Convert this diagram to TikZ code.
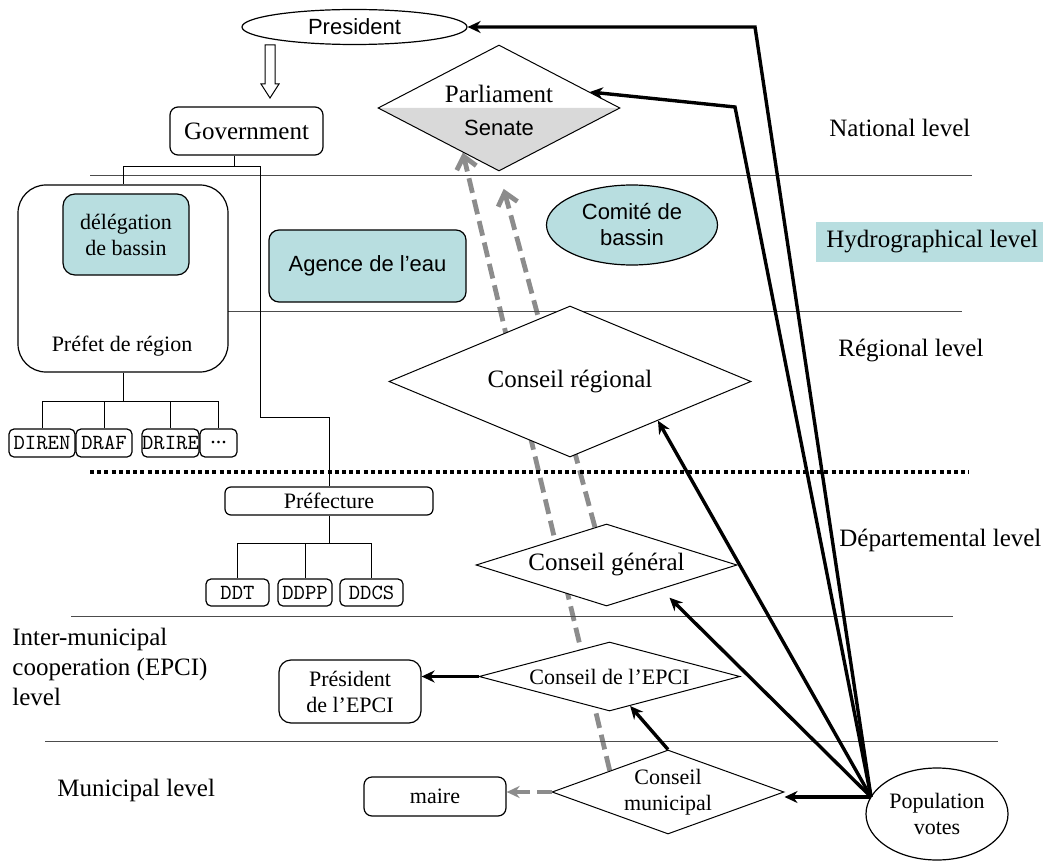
\documentclass[tikz,border=0pt]{standalone}
\usepackage{fontspec}
\setmainfont{Liberation Serif}
\setsansfont{Liberation Sans}
\usetikzlibrary{shapes.geometric}
\usetikzlibrary{arrows.meta}
\usetikzlibrary{backgrounds}

\definecolor{bassin}{RGB}{184,222,224}
\definecolor{senat}{RGB}{217,217,217}
\definecolor{votegray}{RGB}{140,140,140}

\newcommand{\bigtxt}{\fontsize{12.5}{15}\selectfont}
\newcommand{\smalltxt}{\fontsize{11}{13}\selectfont}
\newcommand{\sanstxt}{\sffamily\fontsize{11}{13}\selectfont}
\newcommand{\codetxt}{\ttfamily\fontsize{10.8}{12}\selectfont}

\begin{document}
\begin{tikzpicture}[>={Stealth[length=6.5pt,width=6pt]}, x=0.5pt, y=-0.5pt,
	box/.style={draw, line width=0.6pt, rounded corners=4pt, inner sep=0pt, align=center, font=\smalltxt},
	bluebox/.style={box, fill=bassin},
	codebox/.style={draw, line width=0.6pt, rounded corners=2.5pt, inner sep=0pt, minimum height=14pt, font=\codetxt},
	council/.style={diamond, draw, line width=0.5pt, fill=white, inner sep=0pt, align=center},
	level/.style={anchor=west, inner sep=0pt, align=left, font=\bigtxt},
	sep/.style={draw=black!70, line width=0.5pt},
	tree/.style={line width=0.5pt},
	ballot/.style={->, line width=1.7pt},
	indirect/.style={-{Straight Barb[length=6pt,width=10pt]}, draw=votegray, dash pattern=on 7.5pt off 3.5pt, line width=2.4pt}]

\useasboundingbox (0,0) rectangle (1043,861);

%%%%%%%%%%%%%%%%%%%%%%%%%%%%%%%%%%%%%%%%%%

\draw [sep] (90,176) to (972,176);
\draw [sep] (228,311) to (962,311);
\draw [line width=2pt, dash pattern=on 2pt off 1.6pt] (90,472) to (969,472);
\draw [sep] (71,616) to (953,616);
\draw [sep] (45,741) to (998,741);

\node [level] (natlvl) at (829,128) {National level};
\node [level, fill=bassin, inner xsep=5pt, minimum height=20pt] (hydlvl) at (816,242) {Hydrographical level};
\node [level] (reglvl) at (838,351) {Régional level};
\node [level] (deplvl) at (839,540) {Départemental level};
\node [level] (epcilvl) at (12,667) {Inter-municipal\\cooperation (EPCI)\\level};
\node [level] (munlvl) at (57,790) {Municipal level};

%%%%%%%%%%%%%%%%%%%%%%%%%%%%%%%%%%%%%%%%%%

\node [ellipse, draw, line width=0.6pt, inner sep=0pt, minimum width=112.5pt, minimum height=17.5pt, font=\sanstxt] (pres) at (354.5,27) {President};
\draw [line width=0.5pt, fill=white] (265,45) -- (275,45) -- (275,84) -- (279,84) -- (270,98) -- (261,84) -- (265,84) -- cycle;
\node [box, font=\bigtxt, minimum width=76.5pt, minimum height=24pt] (gov) at (246.5,131) {Government};

\node [council, aspect=1.92, minimum width=121pt, minimum height=63pt,
	path picture={\fill [senat] (path picture bounding box.west) -- (path picture bounding box.east) -- (path picture bounding box.south) -- cycle;}] (parl) at (499,108) {};
\node [font=\bigtxt, inner sep=0pt] (parltxt) at (499,94) {Parliament};
\node [font=\sanstxt, inner sep=0pt] (senatetxt) at (499,128) {Senate};

%%%%%%%%%%%%%%%%%%%%%%%%%%%%%%%%%%%%%%%%%%

\node [box, rounded corners=14pt, minimum width=105pt, minimum height=93.5pt] (prefet) at (123,278.5) {};
\node [font=\smalltxt, inner sep=0pt] (prefettxt) at (122,346) {Préfet de région};
\node [bluebox, rounded corners=6pt, minimum width=63pt, minimum height=40.5pt] (deleg) at (126,234.5) {délégation\\de bassin};
\node [bluebox, font=\sanstxt, rounded corners=5pt, minimum width=98.5pt, minimum height=36pt] (agence) at (367.5,266) {Agence de l’eau};
\node [ellipse, draw, line width=0.6pt, fill=bassin, inner sep=0pt, align=center, minimum width=85.5pt, minimum height=40pt, font=\sanstxt] (comite) at (632,225) {Comité de\\bassin};

\node [codebox, minimum width=33pt] (diren) at (42,443) {DIREN};
\node [codebox, minimum width=28pt] (draf) at (104,443) {DRAF};
\node [codebox, minimum width=28.5pt] (drire) at (170.5,443) {DRIRE};
\node [codebox, minimum width=18.5pt, font=\smalltxt] (etc) at (218.5,443) {...};

\node [council, font=\bigtxt, aspect=2.4, minimum width=181pt, minimum height=75.5pt] (reg) at (570,381.5) {Conseil régional};

%%%%%%%%%%%%%%%%%%%%%%%%%%%%%%%%%%%%%%%%%%

\node [box, rounded corners=3pt, minimum width=104pt, minimum height=14pt] (prefecture) at (329,501) {Préfecture};
\node [codebox, minimum width=31.5pt, minimum height=13.5pt] (ddt) at (237.5,592.5) {DDT};
\node [codebox, minimum width=27pt, minimum height=13.5pt] (ddpp) at (305,592.5) {DDPP};
\node [codebox, minimum width=31.5pt, minimum height=13.5pt] (ddcs) at (371.5,592.5) {DDCS};

\node [council, font=\bigtxt, aspect=3.18, minimum width=130.5pt, minimum height=41pt] (gen) at (606.5,565) {Conseil général};

%%%%%%%%%%%%%%%%%%%%%%%%%%%%%%%%%%%%%%%%%%

\node [council, font=\smalltxt, aspect=3.78, minimum width=130.5pt, minimum height=34.5pt] (epci) at (609.5,676.5) {Conseil de l’EPCI};
\node [box, rounded corners=6pt, minimum width=71pt, minimum height=31.5pt] (prepci) at (350,691.5) {Président\\de l’EPCI};

\node [council, font=\smalltxt, aspect=2.76, minimum width=116pt, minimum height=42pt] (mun) at (668,792) {Conseil\\municipal};
\node [box, minimum width=71pt, minimum height=19.5pt] (maire) at (435,796.5) {maire};

\node [ellipse, draw, line width=0.6pt, inner sep=0pt, align=center, minimum width=71pt, minimum height=46pt, font=\smalltxt] (votes) at (937,814) {Population\\votes};

%%%%%%%%%%%%%%%%%%%%%%%%%%%%%%%%%%%%%%%%%%

\coordinate (gfork) at (234,167);
\coordinate (gbend) at (260,417);
\draw [tree] (gov.south -| gfork) to (gfork) -| (prefet.north);
\draw [tree] (gfork) -| (gbend) -| (prefecture.north);

\coordinate (rfork) at (123,401);
\draw [tree] (prefet.south) to (rfork);
\foreach \n in {diren,draf,drire,etc}
	\draw [tree] (rfork) -| (\n.north);

\coordinate (dfork) at (329,543);
\draw [tree] (prefecture.south) to (dfork);
\foreach \n in {ddt,ddpp,ddcs}
	\draw [tree] (dfork) -| (\n.north);

%%%%%%%%%%%%%%%%%%%%%%%%%%%%%%%%%%%%%%%%%%

\coordinate (pop) at (871,797);
\coordinate (kinkpres) at (755,27);
\coordinate (kinkparl) at (735,107);

\draw [ballot] (pop) to (kinkpres) to (pres.east);
\draw [ballot] (pop) to (kinkparl) to (parl.10);
\draw [ballot] (pop) to (reg.-24);
\draw [ballot, shorten >=6pt] (pop) to (gen.-24);
\draw [ballot] (pop) to (pop -| mun.east);
\draw [ballot] (mun.north) to (epci.-55);
\draw [ballot] (epci.west) to (epci.west -| prepci.east);

\draw [->, draw=votegray, line width=2.2pt, dash pattern=on 7.5pt off 3.5pt] (mun.west) to (mun.west -| maire.east);

\begin{pgfonlayer}{background}
\draw [indirect] (mun.north west) to (parl.-129);
\draw [indirect, shorten >=9pt] (gen.107) to (parl.south);
\end{pgfonlayer}

\end{tikzpicture}
\end{document}
